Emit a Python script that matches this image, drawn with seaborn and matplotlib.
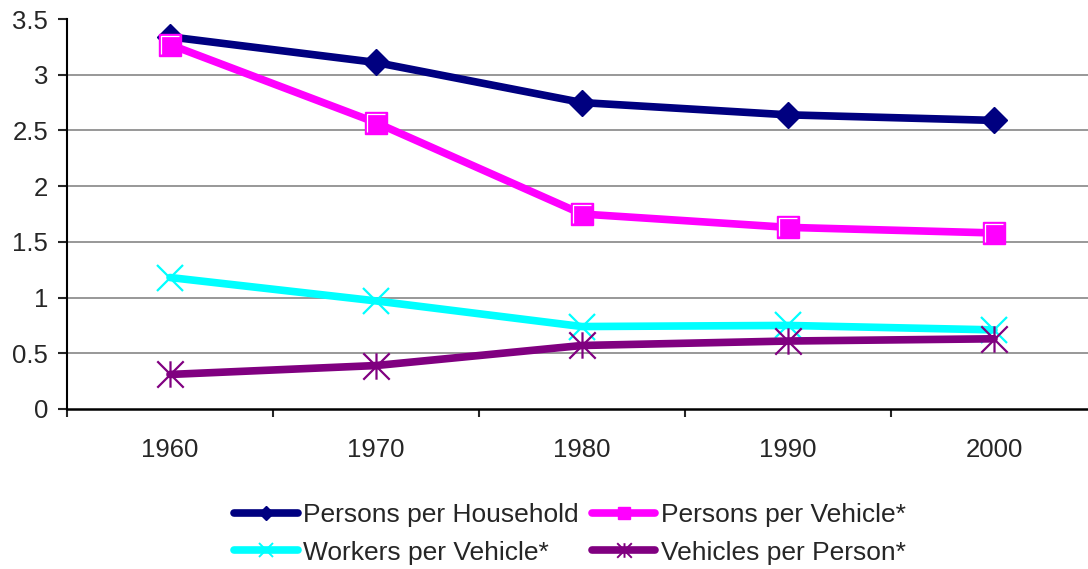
import numpy as np
import pandas as pd
import matplotlib.pyplot as plt
import seaborn as sns
from matplotlib.path import Path
from matplotlib.lines import Line2D
from matplotlib.ticker import FixedLocator

# data
years = ['1960', '1970', '1980', '1990', '2000']
persons_household = [3.34, 3.11, 2.75, 2.64, 2.59]
persons_vehicle = [3.27, 2.57, 1.75, 1.63, 1.58]
workers_vehicle = [1.18, 0.97, 0.74, 0.75, 0.71]
vehicles_person = [0.31, 0.39, 0.57, 0.61, 0.63]

names = ['Persons per Household', 'Persons per Vehicle*',
         'Workers per Vehicle*', 'Vehicles per Person*']
series = [persons_household, persons_vehicle, workers_vehicle, vehicles_person]
colors = ['#000080', '#FF00FF', '#00FFFF', '#800080']

yticks = [0, 0.5, 1, 1.5, 2, 2.5, 3, 3.5]

###MARKER SHAPES (EXCEL STYLE)
star = Path([(-1, -1), (1, 1), (-1, 1), (1, -1), (0, -1), (0, 1)],
            [Path.MOVETO, Path.LINETO, Path.MOVETO, Path.LINETO, Path.MOVETO, Path.LINETO])
bevel = Path([(-1, -1), (-1, 1), (1, 1)], [Path.MOVETO, Path.LINETO, Path.LINETO])

markers = ['D', 's', 'x', star]
marker_sizes = [13.5, 16, 19, 19]
legend_sizes = [7.5, 9, 10.5, 10.5]

sns.set_style('white')
plt.rcParams['font.family'] = ['Liberation Sans', 'DejaVu Sans']

fig = plt.figure(figsize=(10.88, 5.69), dpi=100)
ax = fig.add_axes([67 / 1088, 1 - 409 / 569, 1 - 67 / 1088, 390 / 569])

x = np.arange(len(years))
for name, vals, c, m, ms in zip(names, series, colors, markers, marker_sizes):
    df = pd.DataFrame({'pos': x, 'value': vals})
    filled = m in ('D', 's')
    sns.lineplot(data=df, x='pos', y='value', ax=ax, color=c, lw=5.5,
                 marker=m, markersize=ms, mfc=c if filled else 'none', mec=c,
                 mew=1 if filled else 1.6, legend=False)
    if m == 's':
        # white inner edge on the squares
        sns.lineplot(data=df, x='pos', y='value', ax=ax, lw=0, marker=bevel,
                     markersize=12.5, mfc='none', mec='white', mew=0.9,
                     legend=False)

###GRID / AXES
for t in yticks[1:-1]:
    ax.axhline(t, color='#909090', lw=1.3, zorder=0)

ax.set_xlim(-0.5, -0.5 + (1088 - 67) / 206)
ax.set_ylim(0, 3.5)
ax.set_yticks(yticks)
ax.set_yticklabels(['0', '0.5', '1', '1.5', '2', '2.5', '3', '3.5'])
ax.set_xticks(x)
ax.set_xticklabels(years)
ax.xaxis.set_minor_locator(FixedLocator(np.arange(-0.5, 5, 1.0)))
ax.tick_params(axis='x', which='major', length=0, pad=21, labelsize=18.5)
ax.tick_params(axis='x', which='minor', length=6, width=1.5, direction='out', bottom=True)
ax.tick_params(axis='y', length=6.5, width=1.5, direction='out', left=True, pad=7, labelsize=18.5)
ax.set_xlabel('')
ax.set_ylabel('')
for s in ['top', 'right']:
    ax.spines[s].set_visible(False)
ax.spines['left'].set_linewidth(1.5)
ax.spines['bottom'].set_linewidth(1.8)
ax.spines['left'].set_color('black')
ax.spines['bottom'].set_color('black')

###LEGEND (SMALL MARKERS, ROUND LINE ENDS, ROW ORDER LIKE THE ORIGINAL)
handles = []
for c, m, ms in zip(colors, markers, legend_sizes):
    filled = m in ('D', 's')
    handles.append(Line2D([], [], color=c, lw=5.5, solid_capstyle='round',
                          marker=m, markersize=ms, mfc=c if filled else 'none',
                          mec=c, mew=1 if filled else 1.4))
order = [0, 2, 1, 3]
fig.legend([handles[i] for i in order], [names[i] for i in order],
           ncol=2, loc='center', bbox_to_anchor=(570 / 1088, 1 - 534 / 569),
           frameon=False, fontsize=19, handlelength=2.4, handletextpad=0.2,
           columnspacing=0.5, labelspacing=0.5, borderpad=0)

fig.savefig('out.png', dpi=100)
